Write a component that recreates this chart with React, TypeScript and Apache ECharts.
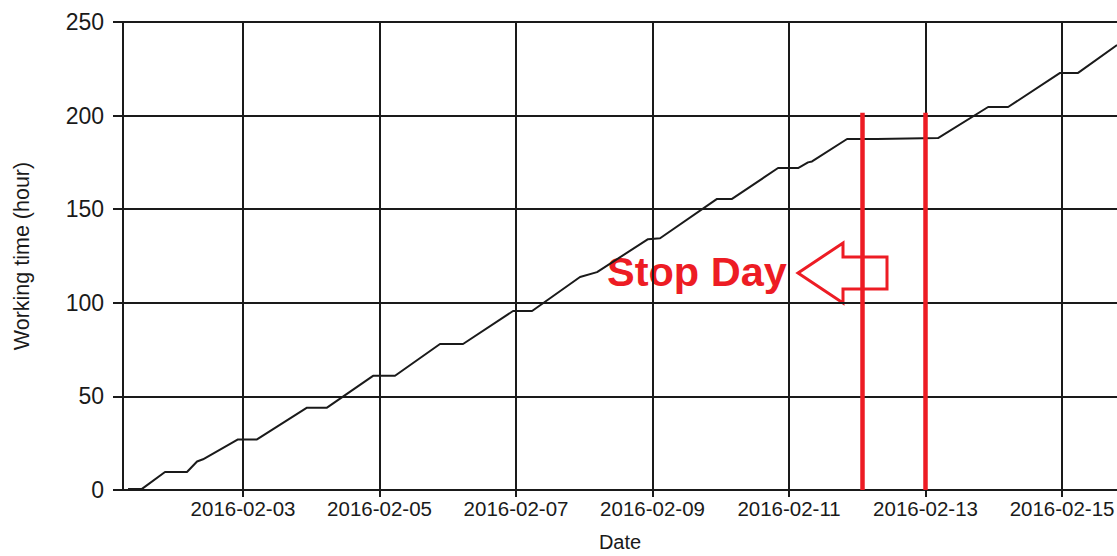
import React, { useEffect, useRef } from "react";
import * as echarts from "echarts";

// Cumulative working time (hours) vs date-time
const times: string[] = [
  "2016-02-01 07:34", "2016-02-01 12:29", "2016-02-01 20:34", "2016-02-02 04:18",
  "2016-02-02 07:50", "2016-02-02 09:56", "2016-02-02 22:14", "2016-02-03 04:55",
  "2016-02-03 22:30", "2016-02-04 05:32", "2016-02-04 21:43", "2016-02-05 05:27",
  "2016-02-05 21:16", "2016-02-06 05:22", "2016-02-06 22:57", "2016-02-07 05:38",
  "2016-02-07 22:30", "2016-02-08 04:29", "2016-02-08 22:25", "2016-02-09 02:39",
  "2016-02-09 22:41", "2016-02-10 03:57", "2016-02-10 20:08", "2016-02-11 03:10",
  "2016-02-11 06:40", "2016-02-11 08:05", "2016-02-11 20:24", "2016-02-12 06:57",
  "2016-02-13 04:23", "2016-02-13 22:00", "2016-02-14 05:02", "2016-02-14 23:18",
  "2016-02-15 05:38", "2016-02-15 19:20",
];
const hours: number[] = [
  0.6, 0.6, 9.6, 9.6,
  15.2, 16.4, 27, 27,
  44, 44, 61, 61,
  78, 78, 95.6, 95.6,
  113.8, 116.4, 134, 134.5,
  155.5, 155.5, 172, 172,
  175, 175.5, 187.5, 187.5,
  188, 204.6, 204.6, 222.8,
  222.8, 237.7,
];
const tickDates: string[] = [
  "2016-02-03", "2016-02-05", "2016-02-07", "2016-02-09",
  "2016-02-11", "2016-02-13", "2016-02-15",
];
const xRange: string[] = ["2016-02-01 05:48", "2016-02-15 19:19"];
const yTicks = { min: 0, max: 250, interval: 50 };
const stopLines: string[] = ["2016-02-12 01:40", "2016-02-13 00:00"];
const stopLineTop = 201.5;
const stopLabel = "Stop Day";

const toMs = (s: string): number => {
  const [d, t] = s.split(" ");
  const [y, m, day] = d.split("-").map(Number);
  const [hh, mm] = (t || "00:00").split(":").map(Number);
  return new Date(y, m - 1, day, hh, mm).getTime();
};
const pad = (n: number) => (n < 10 ? "0" + n : "" + n);
const fmtDate = (v: number) => {
  const d = new Date(v);
  return `${d.getFullYear()}-${pad(d.getMonth() + 1)}-${pad(d.getDate())}`;
};

const FONT = "'Liberation Sans', Arial, sans-serif";
const RED = "#ED1C24";
const INK = "#1a1a1a";

export default function App() {
  const ref = useRef<HTMLDivElement>(null);
  useEffect(() => {
    if (!ref.current) return;
    const chart = echarts.init(ref.current, undefined, { renderer: "svg" });
    const data = times.map((t, i) => [toMs(t), hours[i]]);
    const tickMs = tickDates.map(toMs);
    const gridLines: any[] = tickMs.map((v) => ({ xAxis: v }));
    const redLines: any[] = stopLines.map((s) => [
      { coord: [toMs(s), stopLineTop], lineStyle: { color: RED, width: 4.5, type: "solid" } },
      { coord: [toMs(s), 0] },
    ]);
    chart.setOption({
      animation: false,
      grid: { left: 123, right: 0, top: 22, bottom: 66, outerBoundsMode: "none", containLabel: false },
      xAxis: {
        type: "value",
        min: toMs(xRange[0]),
        max: toMs(xRange[1]),
        name: "Date",
        nameLocation: "middle",
        nameGap: 42,
        nameTextStyle: { fontFamily: FONT, fontSize: 20, color: INK },
        axisLine: { show: true, onZero: false, lineStyle: { color: INK, width: 2 } },
        axisTick: { show: true, customValues: tickMs, length: 7, lineStyle: { color: INK, width: 2 } },
        axisLabel: {
          customValues: tickMs,
          formatter: (v: number) => fmtDate(v),
          fontFamily: FONT,
          fontSize: 20.5,
          color: INK,
          margin: 8,
        },
        splitLine: { show: false },
      },
      yAxis: {
        type: "value",
        min: yTicks.min,
        max: yTicks.max,
        interval: yTicks.interval,
        name: "Working time (hour)",
        nameLocation: "middle",
        nameGap: 90,
        nameTextStyle: { fontFamily: FONT, fontSize: 21.5, color: INK },
        axisLine: { show: true, lineStyle: { color: INK, width: 2 } },
        axisTick: { show: true, length: 10, lineStyle: { color: INK, width: 2 } },
        axisLabel: { fontFamily: FONT, fontSize: 23, color: INK, margin: 19 },
        splitLine: { show: true, lineStyle: { color: INK, width: 2 } },
      },
      series: [
        {
          type: "line",
          data,
          showSymbol: false,
          symbol: "none",
          lineStyle: { color: INK, width: 2 },
          markLine: {
            silent: true,
            symbol: "none",
            label: { show: false },
            lineStyle: { color: INK, width: 2, type: "solid" },
            data: [...gridLines, ...redLines],
          },
        },
      ],
      graphic: [
        {
          type: "text",
          x: 607,
          y: 271,
          style: {
            text: stopLabel,
            fill: RED,
            font: `bold 41.5px ${FONT}`,
            verticalAlign: "middle",
            align: "left",
          },
        },
        {
          type: "polygon",
          shape: {
            points: [
              [798, 273], [843, 243], [843, 257], [887, 257],
              [887, 289], [843, 289], [843, 303],
            ],
          },
          style: { fill: "none", stroke: RED, lineWidth: 3, lineJoin: "miter" },
        },
      ],
    });
    return () => chart.dispose();
  }, []);
  return (
    <div style={{ position: "fixed", left: 0, top: 0, width: 1117, height: 556, overflow: "hidden", background: "#fff" }}>
      <div ref={ref} style={{ width: 1117, height: 556 }} />
    </div>
  );
}
